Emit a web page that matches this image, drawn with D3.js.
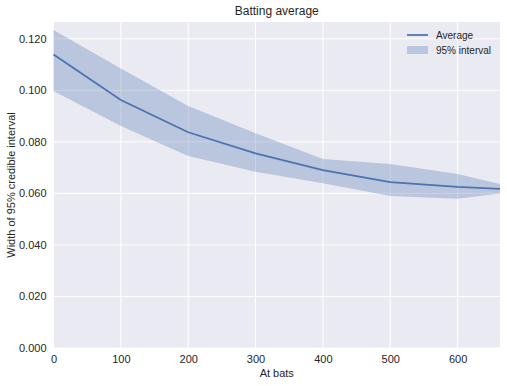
<!DOCTYPE html>
<html>
<head>
<meta charset="utf-8">
<script src="https://cdn.jsdelivr.net/npm/d3@7"></script>
<style>
  body { margin: 0; background: #fff; }
  text { font-family: "Liberation Sans", Arial, sans-serif; fill: #262626; }
</style>
</head>
<body>
<script>
// values
var atBats = [0, 100, 200, 300, 400, 500, 600, 663];
var average = [0.1139, 0.0962, 0.0837, 0.0755, 0.0690, 0.0644, 0.0625, 0.0617];
var upper = [0.1234, 0.1085, 0.0939, 0.0833, 0.0733, 0.0714, 0.0675, 0.0636];
var lower = [0.0997, 0.0861, 0.0745, 0.0684, 0.0639, 0.0590, 0.0579, 0.0600];
var xTicks = [0, 100, 200, 300, 400, 500, 600];
var yTicks = [0, 0.02, 0.04, 0.06, 0.08, 0.10, 0.12];

var width = 507,
    height = 386,
    margin = {top: 22, right: 7, bottom: 38, left: 53.5};

var blue = "#4C72B0";

var x = d3.scaleLinear()
    .domain([0, 663])
    .range([margin.left, width - margin.right]);

var y = d3.scaleLinear()
    .domain([0, 0.1265])
    .range([height - margin.bottom, margin.top]);

var svg = d3.select("body").append("svg")
    .attr("width", width)
    .attr("height", height);

svg.append("rect")
    .attr("x", margin.left)
    .attr("y", margin.top)
    .attr("width", x.range()[1] - margin.left)
    .attr("height", y.range()[0] - margin.top)
    .attr("fill", "#EAEAF2");

// grid
svg.append("g").selectAll("line")
    .data(xTicks)
  .enter().append("line")
    .attr("x1", function(d) { return x(d); })
    .attr("x2", function(d) { return x(d); })
    .attr("y1", margin.top)
    .attr("y2", y(0))
    .attr("stroke", "#fff")
    .attr("stroke-width", 1);

svg.append("g").selectAll("line")
    .data(yTicks)
  .enter().append("line")
    .attr("x1", margin.left)
    .attr("x2", x.range()[1])
    .attr("y1", function(d) { return y(d); })
    .attr("y2", function(d) { return y(d); })
    .attr("stroke", "#fff")
    .attr("stroke-width", 1);

var pts = atBats.map(function(d, i) {
  return {x: d, m: average[i], lo: lower[i], hi: upper[i]};
});

var area = d3.area()
    .x(function(d) { return x(d.x); })
    .y0(function(d) { return y(d.lo); })
    .y1(function(d) { return y(d.hi); });

var line = d3.line()
    .x(function(d) { return x(d.x); })
    .y(function(d) { return y(d.m); });

svg.append("path")
    .datum(pts)
    .attr("d", area)
    .attr("fill", blue)
    .attr("fill-opacity", 0.3);

svg.append("path")
    .datum(pts)
    .attr("d", line)
    .attr("fill", "none")
    .attr("stroke", blue)
    .attr("stroke-width", 1.75);

// axes
var xAxis = d3.axisBottom(x).tickValues(xTicks).tickSize(0).tickPadding(7);
var yAxis = d3.axisLeft(y).tickValues(yTicks).tickSize(0).tickPadding(7)
    .tickFormat(d3.format(".3f"));

svg.append("g")
    .attr("transform", "translate(0," + y(0) + ")")
    .call(xAxis)
    .call(function(g) { g.select(".domain").remove(); })
    .selectAll("text")
    .style("font-size", "11px");

svg.append("g")
    .attr("transform", "translate(" + margin.left + ",0)")
    .call(yAxis)
    .call(function(g) { g.select(".domain").remove(); })
    .selectAll("text")
    .style("font-size", "11px");

svg.selectAll(".tick text").attr("fill", "#262626");

// titles
svg.append("text")
    .attr("x", (margin.left + x.range()[1]) / 2)
    .attr("y", 15)
    .attr("text-anchor", "middle")
    .style("font-size", "12px")
    .text("Batting average");

svg.append("text")
    .attr("x", (margin.left + x.range()[1]) / 2)
    .attr("y", 377)
    .attr("text-anchor", "middle")
    .style("font-size", "11px")
    .text("At bats");

svg.append("text")
    .attr("transform", "translate(15," + (margin.top + y(0)) / 2 + ") rotate(-90)")
    .attr("text-anchor", "middle")
    .style("font-size", "11px")
    .text("Width of 95% credible interval");

// legend
var legend = svg.append("g").attr("transform", "translate(407,35)");
legend.append("line")
    .attr("x1", 0).attr("x2", 21)
    .attr("y1", 0).attr("y2", 0)
    .attr("stroke", blue)
    .attr("stroke-width", 1.75);
legend.append("text")
    .attr("x", 29).attr("y", 4)
    .style("font-size", "10px")
    .text("Average");
legend.append("rect")
    .attr("x", 0).attr("y", 11)
    .attr("width", 21).attr("height", 8)
    .attr("fill", blue)
    .attr("fill-opacity", 0.3);
legend.append("text")
    .attr("x", 29).attr("y", 18.5)
    .style("font-size", "10px")
    .text("95% interval");
</script>
</body>
</html>
